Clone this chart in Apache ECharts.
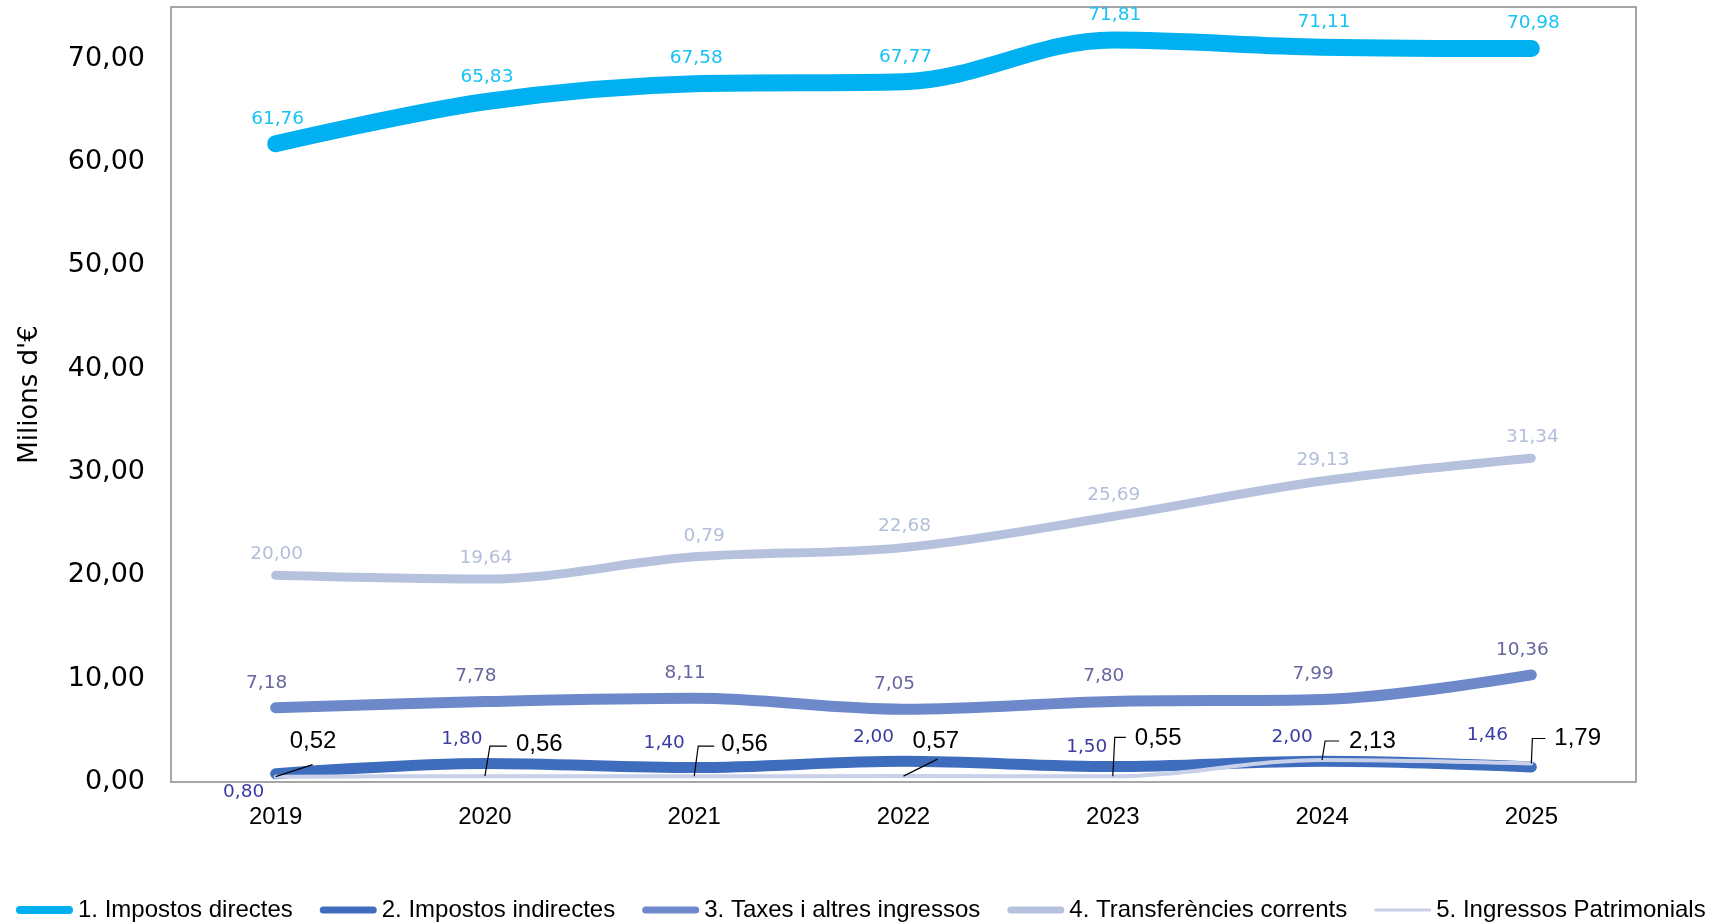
<!DOCTYPE html>
<html><head><meta charset="utf-8">
<script src="https://cdn.jsdelivr.net/npm/echarts@6/dist/echarts.min.js"></script>
<style>html,body{margin:0;padding:0;background:#fff}#c{width:1719px;height:923px}</style>
</head><body><div id="c"></div>
<script>
// ---- data ----
const years = ['2019', '2020', '2021', '2022', '2023', '2024', '2025'];
const seriesNames = ['1. Impostos directes', '2. Impostos indirectes', '3. Taxes i altres ingressos', '4. Transferències corrents', '5. Ingressos Patrimonials'];
const impostosDirectes = [61.76, 65.83, 67.58, 67.77, 71.81, 71.11, 70.98];
const impostosIndirectes = [0.80, 1.80, 1.40, 2.00, 1.50, 2.00, 1.46];
const taxes = [7.18, 7.78, 8.11, 7.05, 7.80, 7.99, 10.36];
const transferencies = [20.00, 19.64, 21.79, 22.68, 25.69, 29.13, 31.34];
const transferenciesLabels = ['20,00', '19,64', '0,79', '22,68', '25,69', '29,13', '31,34'];
const patrimonials = [0.52, 0.56, 0.56, 0.57, 0.55, 2.13, 1.79];
const yTicks = [0, 10, 20, 30, 40, 50, 60, 70];

// ---- styling ----
const fmt = v => Number(v).toFixed(2).replace('.', ',');
const SANS = 'Liberation Sans';
const VERD = 'DejaVu Sans';
const colors = ['#00B0F0', '#3F6DBE', '#6E89CA', '#B5C1DD', '#C8D0EA'];
const widths = [17, 11, 11, 9, 4];
const labelColors = ['#18C3F4', '#3B3BA3', '#66669F', '#B3BEDA', '#000'];
const indirectOffsets = [[-32, 18], [-23, -24], [-30, -24], [-30, -24], [-26, -19], [-30, -24], [-44, -32]];
// callouts for series 5: leader polyline (px from point) and label left/middle anchor
const callouts = [
  {line: [[0, 0], [37, -12]], text: [14, -35]},
  {line: [[0, 0], [5, -30], [22, -30]], text: [31, -32]},
  {line: [[0, 0], [4, -30], [20, -30]], text: [27, -32]},
  {line: [[0, 0], [34, -17]], text: [9, -35]},
  {line: [[0, 0], [2, -39], [13, -39]], text: [22, -38]},
  {line: [[0, 0], [3, -19], [17, -19]], text: [27, -19]},
  {line: [[0, 0], [1, -25], [14, -25]], text: [23, -25]}
];
const legendBar = h => 'path://M' + h / 2 + ',0 H' + (57 - h / 2) + ' A' + h / 2 + ',' + h / 2 + ' 0 0 1 ' + (57 - h / 2) + ',' + h +
  ' H' + h / 2 + ' A' + h / 2 + ',' + h / 2 + ' 0 0 1 ' + h / 2 + ',0 Z';
const legendHeights = [8, 7, 7, 7, 3];

function lineSeries(idx, values, labelFn) {
  return {
    name: seriesNames[idx], type: 'line', smooth: 0.35, symbol: 'circle', symbolSize: 1, showSymbol: true,
    data: values.map((v, i) => labelFn ? {value: v, label: labelFn(i)} : v),
    lineStyle: {color: colors[idx], width: widths[idx], cap: 'round', join: 'round'},
    itemStyle: {color: colors[idx]},
    emphasis: {disabled: true},
    z: 2 + idx
  };
}
const baseLabel = (color) => ({show: true, position: 'inside', color: color, fontFamily: VERD, fontSize: 18.5});

const s1 = lineSeries(0, impostosDirectes);
s1.label = Object.assign(baseLabel(labelColors[0]), {offset: [2, -25], formatter: p => fmt(p.value)});
const s2 = lineSeries(1, impostosIndirectes, i => ({offset: indirectOffsets[i]}));
s2.label = Object.assign(baseLabel(labelColors[1]), {formatter: p => fmt(p.value)});
const s3 = lineSeries(2, taxes);
s3.label = Object.assign(baseLabel(labelColors[2]), {offset: [-9, -25], formatter: p => fmt(p.value)});
const s4 = lineSeries(3, transferencies, i => ({offset: i === 2 ? [10, -21] : [1, -21]}));
s4.label = Object.assign(baseLabel(labelColors[3]), {formatter: p => transferenciesLabels[p.dataIndex]});
const s5 = lineSeries(4, patrimonials);

const calloutSeries = {
  name: 'callouts', type: 'custom', z: 20, silent: true,
  data: patrimonials.map((v, i) => [i, v]),
  renderItem: function (params, api) {
    const i = params.dataIndex;
    const p = api.coord([api.value(0), api.value(1)]);
    const c = callouts[i];
    return {
      type: 'group', children: [
        {type: 'polyline', shape: {points: c.line.map(d => [p[0] + d[0], p[1] + d[1]])},
          style: {stroke: '#000', lineWidth: 1.2, fill: null}},
        {type: 'text', x: p[0] + c.text[0], y: p[1] + c.text[1],
          style: {text: fmt(api.value(1)), fill: '#000', font: '24px ' + SANS,
            textAlign: 'left', align: 'left', textVerticalAlign: 'middle', verticalAlign: 'middle'}}
      ]
    };
  }
};

const chart = echarts.init(document.getElementById('c'), null, {renderer: 'canvas'});
chart.setOption({
  animation: false,
  backgroundColor: '#fff',
  grid: {left: 171, right: 83, top: 7, bottom: 141, show: true, borderColor: '#A6A6A6', borderWidth: 2, backgroundColor: '#fff'},
  xAxis: {
    type: 'category', data: years, boundaryGap: true,
    axisLine: {show: false}, axisTick: {show: false},
    axisLabel: {color: '#000', fontFamily: SANS, fontSize: 24, margin: 23}
  },
  yAxis: {
    type: 'value', min: 0, max: 75, interval: 10,
    name: "Milions d'€", nameLocation: 'middle', nameGap: 128, nameRotate: 90,
    nameTextStyle: {color: '#000', fontFamily: VERD, fontSize: 26},
    axisLine: {show: false}, axisTick: {show: false}, splitLine: {show: false},
    axisLabel: {color: '#000', fontFamily: VERD, fontSize: 27, margin: 26,
      formatter: v => yTicks.indexOf(v) >= 0 ? fmt(v) : ''}
  },
  legend: {
    left: 16, top: 898, width: 1900, padding: 0, itemWidth: 57, itemHeight: 24, itemGap: 27, selectedMode: false,
    textStyle: {color: '#000', fontFamily: SANS, fontSize: 24},
    data: seriesNames.map((n, i) => ({name: n, icon: legendBar(legendHeights[i]), itemStyle: {color: colors[i]}}))
  },
  series: [s1, s2, s3, s4, s5, calloutSeries]
});
</script></body></html>
